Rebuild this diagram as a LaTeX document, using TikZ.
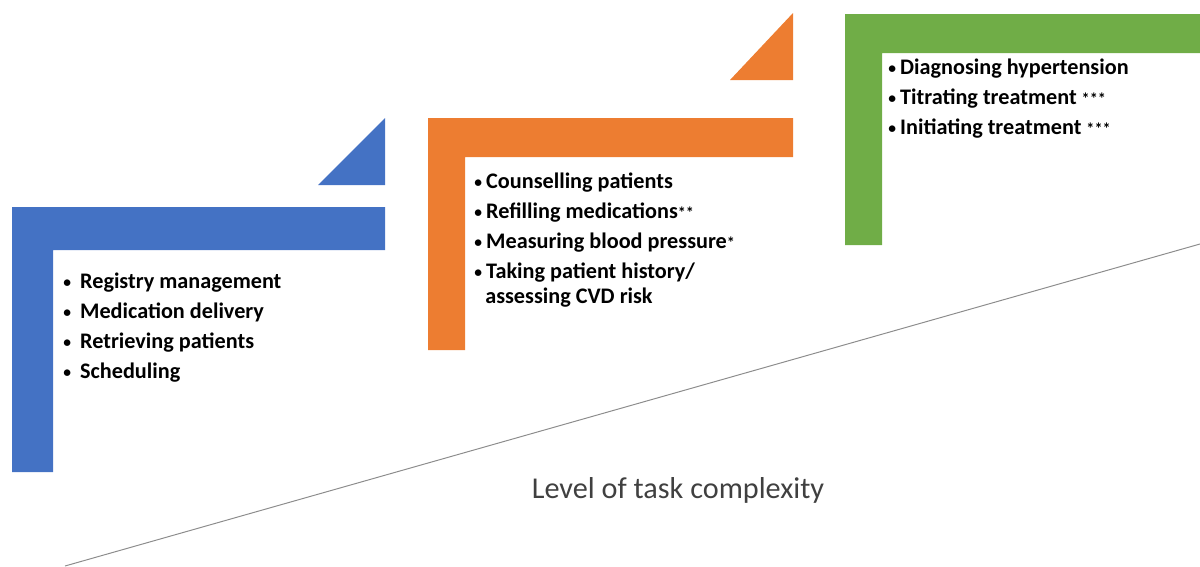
\documentclass[tikz,border=0pt]{standalone}
\usepackage{fontspec}
\setmainfont{Carlito}
\usepackage{xcolor}
\usetikzlibrary{positioning}
\definecolor{stepblue}{HTML}{4472C4}
\definecolor{steporange}{HTML}{ED7D31}
\definecolor{stepgreen}{HTML}{70AD47}
\definecolor{axisgray}{HTML}{8C8C8C}
\newcommand{\stars}[1]{{\fontsize{11.5}{12}\selectfont #1}}
\newcommand{\dotmark}{\raisebox{0.6pt}{\fontsize{11}{12}\selectfont\textbullet}}

\begin{document}
\begin{tikzpicture}[x=0.025cm, y=-0.025cm,
    every node/.style={inner sep=0pt},
    task/.style={anchor=west, font=\fontsize{15.8}{19}\selectfont\bfseries,
                 text height=11pt, text depth=3pt}]
  \useasboundingbox (0,0) rectangle (1200,566);

  % rising axis
  \draw[axisgray, line width=0.7pt] (65,566) -- (1200,244);
  \node[font=\fontsize{21.5}{24}\selectfont, text=black!75] (axis) at (678,490) {Level of task complexity};

  % step 1
  \fill[stepblue] (12,472) -- (12,207) -- (385,207) -- (385,250) -- (53,250) -- (53,472) -- cycle;
  \fill[stepblue] (318,185) -- (385,185) -- (385,118) -- cycle;
  \foreach \t [count=\i] in {Registry management, Medication delivery, Retrieving patients, Scheduling} {
    \node[task] (low\i) at (63, 253+30*\i) {\dotmark\hspace{6.5pt}\t};
  }

  % step 2
  \fill[steporange] (428,350) -- (428,118) -- (793,118) -- (793,157) -- (465,157) -- (465,350) -- cycle;
  \fill[steporange] (730,80) -- (793,80) -- (793,13) -- cycle;
  \node[task] (mid1) at (474,183) {\dotmark\hspace{3pt}Counselling patients};
  \node[task] (mid2) at (474,213) {\dotmark\hspace{3pt}Refilling medications\stars{**}};
  \node[task] (mid3) at (474,243) {\dotmark\hspace{3pt}Measuring blood pressure\stars{*}};
  \node[task] (mid4) at (474,273) {\dotmark\hspace{3pt}Taking patient history/};
  \node[task] (mid5) at (485,298) {assessing CVD risk};

  % step 3
  \fill[stepgreen] (845,245) -- (845,14) -- (1200,14) -- (1200,53) -- (882,53) -- (882,245) -- cycle;
  \node[task] (high1) at (888,69)  {\dotmark\hspace{3pt}Diagnosing hypertension};
  \node[task] (high2) at (888,99)  {\dotmark\hspace{3pt}Titrating treatment \stars{***}};
  \node[task] (high3) at (888,129) {\dotmark\hspace{3pt}Initiating treatment \stars{***}};
\end{tikzpicture}
\end{document}
